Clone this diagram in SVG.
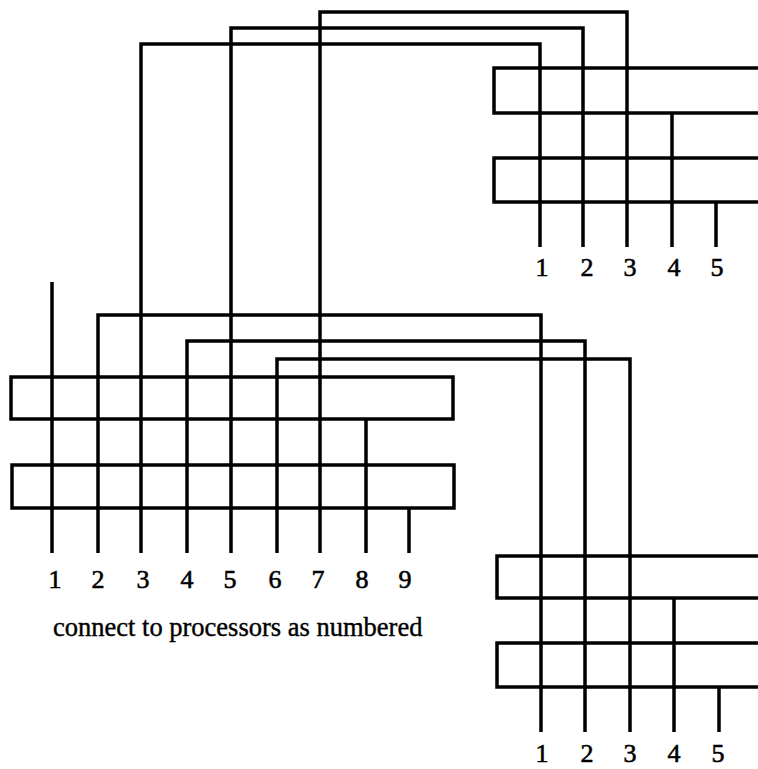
<svg xmlns="http://www.w3.org/2000/svg" width="758" height="769" viewBox="0 0 758 769">
<style>
.box{fill:none;stroke:#000;stroke-width:3.5}
.w{fill:none;stroke:#000;stroke-width:3.5;stroke-linejoin:miter}
.lbl{font-size:26px;fill:#000;stroke:#000;stroke-width:0.6;text-anchor:middle}
.cap{font-size:26.5px;fill:#000;stroke:#000;stroke-width:0.4}
</style>
<rect width="758" height="769" fill="#fff"/>
<g id="board-top-right">
<rect class="box" x="494" y="68" width="280" height="45"/>
<rect class="box" x="494" y="158" width="280" height="44"/>
</g>
<g id="board-left">
<rect class="box" x="11" y="377" width="442" height="42"/>
<rect class="box" x="12" y="465" width="442" height="43"/>
</g>
<g id="board-bottom-right">
<rect class="box" x="497" y="556" width="280" height="42"/>
<rect class="box" x="497" y="643" width="280" height="44"/>
</g>
<g id="connectors">
<path class="w" d="M52 282 V553"/>
<path class="w" d="M98 553 V315 H541 V732"/>
<path class="w" d="M141 553 V44 H540 V247"/>
<path class="w" d="M187 553 V341 H585 V732"/>
<path class="w" d="M231 553 V28 H583 V247"/>
<path class="w" d="M277 553 V359 H630 V732"/>
<path class="w" d="M320 553 V12 H627 V247"/>
<path class="w" d="M366 419 V553"/>
<path class="w" d="M409 508 V553"/>
<path class="w" d="M672 113 V247"/>
<path class="w" d="M716 202 V247"/>
<path class="w" d="M674 598 V732"/>
<path class="w" d="M719 687 V732"/>
</g>
<g id="labels-left" font-family="Liberation Serif, Times New Roman, serif">
<text class="lbl" x="55" y="588">1</text>
<text class="lbl" x="98" y="588">2</text>
<text class="lbl" x="143" y="588">3</text>
<text class="lbl" x="187" y="588">4</text>
<text class="lbl" x="230" y="588">5</text>
<text class="lbl" x="275" y="588">6</text>
<text class="lbl" x="318" y="588">7</text>
<text class="lbl" x="362" y="588">8</text>
<text class="lbl" x="405" y="588">9</text>
<text class="cap" x="53" y="636">connect to processors as numbered</text>
</g>
<g id="labels-top-right" font-family="Liberation Serif, Times New Roman, serif">
<text class="lbl" x="542" y="276">1</text>
<text class="lbl" x="587" y="276">2</text>
<text class="lbl" x="630" y="276">3</text>
<text class="lbl" x="674" y="276">4</text>
<text class="lbl" x="717" y="276">5</text>
</g>
<g id="labels-bottom-right" font-family="Liberation Serif, Times New Roman, serif">
<text class="lbl" x="542" y="762">1</text>
<text class="lbl" x="587" y="762">2</text>
<text class="lbl" x="630" y="762">3</text>
<text class="lbl" x="674" y="762">4</text>
<text class="lbl" x="718" y="762">5</text>
</g>
</svg>
